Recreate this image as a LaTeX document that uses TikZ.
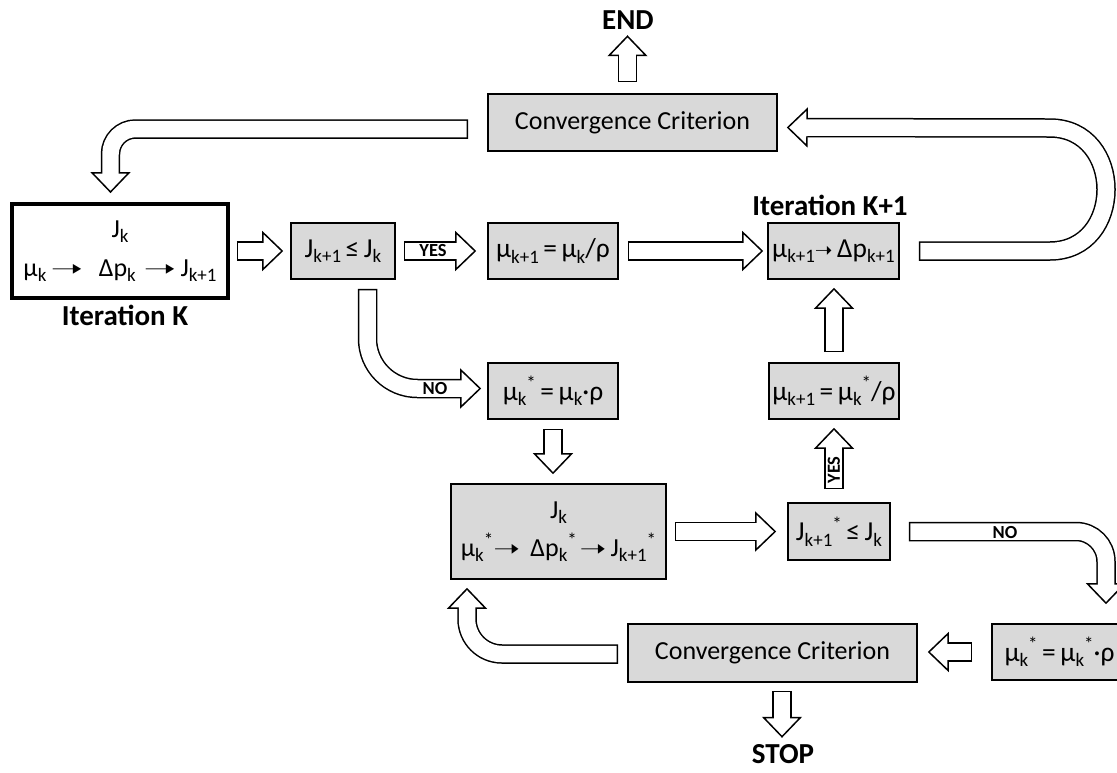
\documentclass[tikz,border=0pt]{standalone}
\usepackage{fontspec}
\usepackage{graphicx}
\setmainfont{Carlito}
\newfontfamily\arrowfont{DejaVu Sans}
\usetikzlibrary{arrows.meta, calc}
\newcommand{\smallarr}{{\arrowfont\fontsize{12}{12}\selectfont ➝}}
\newcommand{\longarr}{{\arrowfont\fontsize{13}{13}\selectfont\scalebox{1.7}[1]{➝}}}
\newcommand{\midarr}{{\arrowfont\fontsize{13}{13}\selectfont\scalebox{1.4}[1]{➝}}}
\newcommand{\lowtxt}[1]{\raisebox{-0.4ex}{\fontsize{10.8}{10.8}\selectfont #1}}
\newcommand{\hightxt}[1]{\raisebox{0.8ex}{\fontsize{10.8}{10.8}\selectfont #1}}
\definecolor{boxgray}{RGB}{217,217,217}
\tikzset{
	graybox/.style={draw, line width=0.9pt, fill=boxgray, inner sep=0pt, align=center, font=\fontsize{14.8}{19}\selectfont},
	formbox/.style={graybox, font=\fontsize{15.6}{19}\selectfont},
	title/.style={inner sep=0pt, font=\fontsize{16.5}{18}\selectfont\bfseries},
	tag/.style={inner sep=0pt, font=\fontsize{10.5}{11}\selectfont\bfseries},
	fat/.style={line width=0.39cm, -{Triangle[fill=white, length=0.42cm, width=0.8cm, line width=0.85pt]},
		postaction={draw, white, line width=0.33cm, -, shorten >=0.38cm, shorten <=0.03cm}},
}
\begin{document}
\begin{tikzpicture}[x=0.02cm, y=-0.02cm]
	\useasboundingbox (0,0) rectangle (1117,772);
	% Boxes:
	\node[graybox, fill=white, line width=2.2pt, minimum width=4.32cm, minimum height=1.88cm] (kbox) at (120,251)
		{J\lowtxt{k}\\[3pt] μ\lowtxt{k}\,\longarr\hspace{0.6em}Δp\lowtxt{k}\hspace{0.3em}\longarr\,J\lowtxt{k+1}};
	\node[formbox, minimum width=2.08cm, minimum height=1.12cm] (jbox) at (343,251) {J\lowtxt{k+1}\,≤\,J\lowtxt{k}};
	\node[formbox, minimum width=2.6cm, minimum height=1.12cm] (mubox) at (553,251) {μ\lowtxt{k+1}\,=\,μ\lowtxt{k}/ρ};
	\node[formbox, minimum width=2.62cm, minimum height=1.12cm] (kpbox) at (833.5,251) {μ\lowtxt{k+1}\smallarr\,Δp\lowtxt{k+1}};
	\node[graybox, minimum width=5.78cm, minimum height=1.14cm] (topconv) at (632.5,122.5) {Convergence Criterion};
	\node[formbox, minimum width=2.6cm, minimum height=1.12cm] (starbox) at (553,391) {μ\lowtxt{k}\hightxt{*}\,=\,μ\lowtxt{k}·ρ};
	\node[graybox, minimum width=4.3cm, minimum height=1.9cm] (lowbox) at (558.5,531.5)
		{J\lowtxt{k}\\[3pt] μ\lowtxt{k}\hightxt{*}\midarr\hspace{0.4em}Δp\lowtxt{k}\hightxt{*}\hspace{0.1em}\midarr\,J\lowtxt{k+1}\hightxt{*}};
	\node[formbox, minimum width=2.04cm, minimum height=1.14cm] (jstar) at (839,531.5) {J\lowtxt{k+1}\hightxt{*}\,≤\,J\lowtxt{k}};
	\node[formbox, minimum width=2.6cm, minimum height=1.12cm] (mustar) at (834,391) {μ\lowtxt{k+1}\,=\,μ\lowtxt{k}\hightxt{*}/ρ};
	\node[graybox, minimum width=5.78cm, minimum height=1.16cm] (lowconv) at (772.5,653) {Convergence Criterion};
	\node[formbox, minimum width=2.7cm, minimum height=1.12cm] (rbox) at (1059.5,652) {μ\lowtxt{k}\hightxt{*}\,=\,μ\lowtxt{k}\hightxt{*}·ρ};
	\node[title] (iterk) at (125,315) {Iteration K};
	\node[title] (iterkp) at (830,205) {Iteration K+1};
	\node[title] (endlbl) at (628,20) {END};
	\node[title] (stoplbl) at (783,754) {STOP};
	% Block arrows:
	\draw[fat, rounded corners=0.5cm] ($(topconv.west)+(-19,6.5)$) -| ($(kbox.north)+(-9.5,-9)$);
	\draw[fat] ($(kbox.east)+(7,0)$) -- ($(jbox.west)+(-7,0)$);
	\draw[fat] ($(jbox.east)+(8,0)$) -- ($(mubox.west)+(-11,0)$);
	\draw[fat] ($(mubox.east)+(9,0)$) -- ($(kpbox.west)+(-4,0)$);
	\draw[fat] ($(kpbox.east)+(19,0)$) -- ++(131,0) .. controls +(75,0) and +(75,0) .. ++(0,-123) -- ($(topconv.east)+(9,5)$);
	\draw[fat] ($(topconv.north)+(-5,-11)$) -- ++(0,-47);
	\draw[fat, rounded corners=1cm] ($(jbox.south)+(24.5,9)$) |- ($(starbox.west)+(-6,-2.5)$);
	\draw[fat] ($(starbox.south)+(0,9)$) -- ($(starbox.south |- lowbox.north)+(0,-9)$);
	\draw[fat] ($(lowbox.east)+(8,0)$) -- ($(jstar.west)+(-11,0)$);
	\draw[fat] ($(mustar.south |- jstar.north)+(0,-13)$) -- ($(mustar.south)+(0,8)$);
	\draw[fat] ($(mustar.north)+(0,-10)$) -- ($(mustar.north |- kpbox.south)+(0,8)$);
	\draw[fat, rounded corners=0.6cm] ($(jstar.east)+(18,0)$) -| ($(rbox.north)+(46.5,-19)$);
	\draw[fat] ($(rbox.west)+(-19,0)$) -- ($(rbox.west -| lowconv.east)+(10,0)$);
	\draw[fat, rounded corners=0.7cm] ($(lowconv.west)+(-9,1)$) -| ($(lowbox.south)+(-91.5,8)$);
	\draw[fat] ($(lowconv.south)+(9.5,8)$) -- ++(0,47);
	% Labels on arrows:
	\node[tag] (yes1) at (433,251) {YES};
	\node[tag] (no1) at (435,388.5) {NO};
	\node[tag, rotate=90] (yes2) at (834,470) {YES};
	\node[tag] (no2) at (1005,533) {NO};
\end{tikzpicture}
\end{document}
